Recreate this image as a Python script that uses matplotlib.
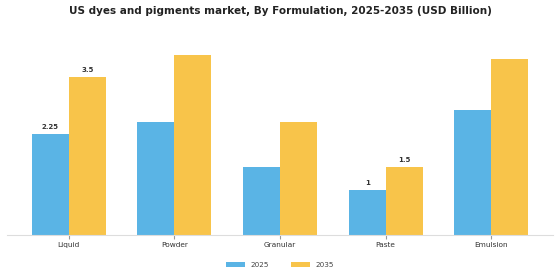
import matplotlib
matplotlib.use('Agg')
import matplotlib.pyplot as plt
import numpy as np

categories = ['Liquid', 'Powder', 'Granular', 'Paste', 'Emulsion']
values_2025 = [2.25, 2.5, 1.5, 1.0, 2.77]
values_2035 = [3.5, 4.0, 2.5, 1.5, 3.92]
# which bars carry a value label
labels_2025 = ['2.25', '', '', '1', '']
labels_2035 = ['3.5', '', '', '1.5', '']

blue = '#5AB4E5'
yellow = '#F8C44A'

fig = plt.figure(figsize=(5.6, 2.8), dpi=100)
ax = fig.add_axes([0.0125, 0.161, 0.975, 0.675])

x = np.arange(len(categories))
w = 0.35
b1 = ax.bar(x - w / 2, values_2025, w, color=blue, label='2025')
b2 = ax.bar(x + w / 2, values_2035, w, color=yellow, label='2035')

for bars, labs in ((b1, labels_2025), (b2, labels_2035)):
    for bar, lab in zip(bars, labs):
        if lab:
            ax.text(bar.get_x() + bar.get_width() / 2, bar.get_height() + 0.09, lab,
                    ha='center', va='bottom', fontsize=5, fontweight='bold', color='#333333')

ax.set_xticks(x)
ax.set_xticklabels(categories, fontsize=5.3, color='#333333')
ax.tick_params(axis='x', length=3, color='#999999', pad=2)
ax.set_yticks([])
for s in ('top', 'right', 'left'):
    ax.spines[s].set_visible(False)
ax.spines['bottom'].set_color('#dddddd')

fig.suptitle('US dyes and pigments market, By Formulation, 2025-2035 (USD Billion)',
             fontsize=7.5, fontweight='bold', y=0.978, color='#222222')

fig.legend(handles=[b1, b2], loc='center', bbox_to_anchor=(0.5, 0.053), ncol=2, frameon=False,
           fontsize=5.2, handlelength=2.6, handleheight=0.7, columnspacing=3.0, labelcolor='#444444')

fig.savefig('out.png', dpi=100)
